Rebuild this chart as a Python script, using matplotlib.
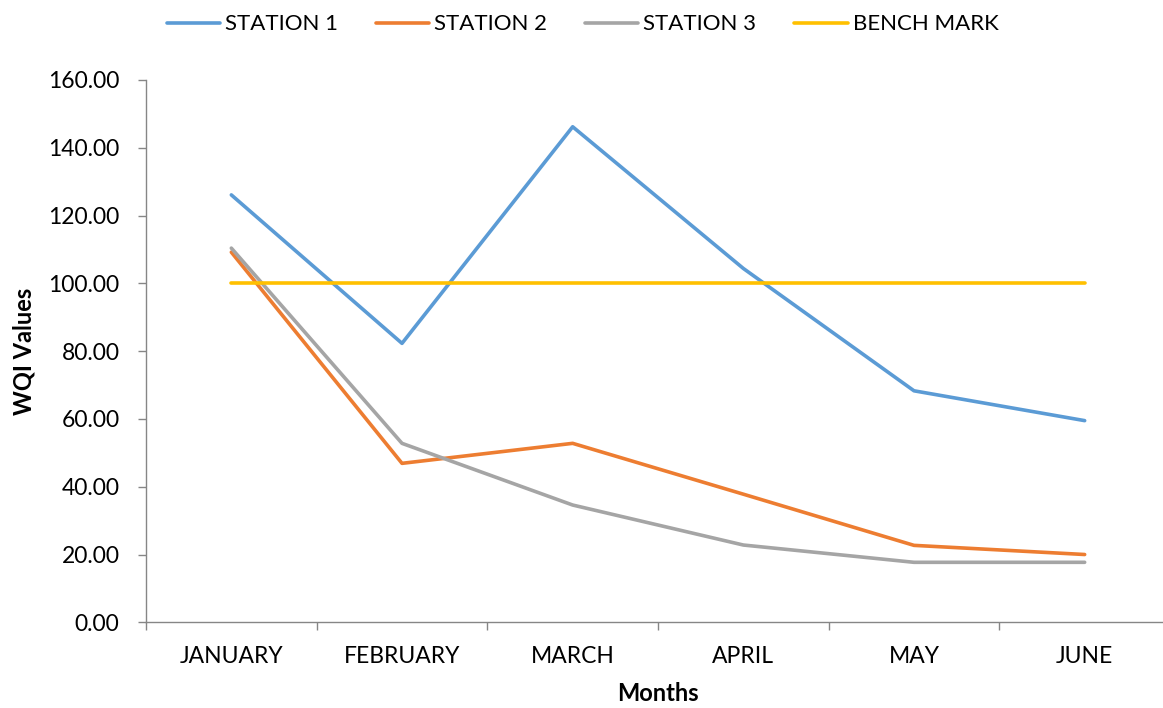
# WQI values per month for three stations against the bench mark.

import matplotlib
matplotlib.use('Agg')
import matplotlib.pyplot as plt
from matplotlib.ticker import FormatStrFormatter

months = ['JANUARY', 'FEBRUARY', 'MARCH', 'APRIL', 'MAY', 'JUNE']
station_1 = [126.1, 82.3, 146.2, 104.4, 68.3, 59.5]
station_2 = [109.2, 46.9, 52.8, 37.8, 22.7, 20.0]
station_3 = [110.4, 52.8, 34.6, 22.8, 17.7, 17.7]
bench_mark = [100.0, 100.0, 100.0, 100.0, 100.0, 100.0]
y_ticks = [0, 20, 40, 60, 80, 100, 120, 140, 160]

plt.rcParams['font.family'] = ['Lato', 'DejaVu Sans']

fig = plt.figure(figsize=(11.63, 7.08), dpi=100)
ax = fig.add_axes([146 / 1163, 1 - 622.3 / 708, 1024 / 1163, 542.3 / 708])

x = list(range(len(months)))
lw = 2.6
ax.plot(x, station_1, color='#5B9BD5', linewidth=lw, label='STATION 1', solid_capstyle='round')
ax.plot(x, station_2, color='#ED7D31', linewidth=lw, label='STATION 2', solid_capstyle='round')
ax.plot(x, station_3, color='#A5A5A5', linewidth=lw, label='STATION 3', solid_capstyle='round')
ax.plot(x, bench_mark, color='#FFC000', linewidth=lw, label='BENCH MARK', solid_capstyle='round')

ax.set_xlim(-0.5, len(months) - 0.5)
ax.set_ylim(0, 160)
ax.set_yticks(y_ticks)
ax.yaxis.set_major_formatter(FormatStrFormatter('%.2f'))

# category boundaries carry the tick marks, centres carry the labels
ax.set_xticks([i - 0.5 for i in range(len(months) + 1)])
ax.set_xticklabels([])
ax.set_xticks(x, minor=True)
ax.set_xticklabels(months, minor=True)
ax.tick_params(axis='x', which='major', length=6, width=1, color='#868686')
ax.tick_params(axis='x', which='minor', length=0, pad=17, labelsize=16.5)
ax.tick_params(axis='y', length=6, width=1, color='#868686', pad=13, labelsize=16.5)

for side in ['top', 'right']:
  ax.spines[side].set_visible(False)
for side in ['left', 'bottom']:
  ax.spines[side].set_color('#868686')
  ax.spines[side].set_linewidth(1)

ax.set_xlabel('Months', fontsize=17, fontweight='bold', labelpad=11)
ax.set_ylabel('WQI Values', fontsize=17, fontweight='bold', labelpad=9)

fig.legend(loc='center', bbox_to_anchor=(582.5 / 1163, 1 - 24.3 / 708), ncol=4, frameon=False,
           fontsize=16, handlelength=2.4, handletextpad=0.23, columnspacing=1.7)

fig.savefig('out.png', dpi=100)
